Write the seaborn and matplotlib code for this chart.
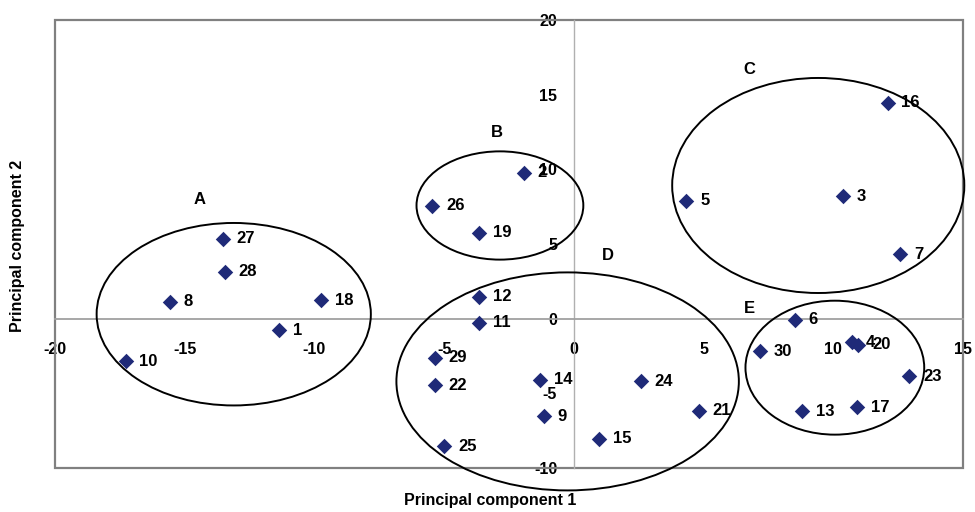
import numpy as np
import pandas as pd
import seaborn as sns
import matplotlib.pyplot as plt
from matplotlib.patches import Ellipse, Rectangle

# sample scores on the first two principal components
sample_id = list(range(1, 31))
pc1 = [-11.36, -1.93, 10.36, 10.71, 4.33, 8.52, 12.58, -15.57, -1.17, -17.28,
       -3.66, -3.66, 8.80, -1.31, 0.98, 12.09, 10.92, -9.75, -3.66, 10.96,
       4.82, -5.36, 12.93, 2.58, -5.00, -5.45, -13.53, -13.45, -5.36, 7.17]
pc2 = [-0.78, 9.76, 8.19, -1.59, 7.90, -0.07, 4.33, 1.12, -6.54, -2.86,
       -0.27, 1.47, -6.21, -4.09, -8.04, 14.45, -5.94, 1.23, 5.74, -1.74,
       -6.16, -4.47, -3.86, -4.20, -8.55, 7.57, 5.36, 3.13, -2.63, -2.19]

# cluster outlines
groups = ['A', 'B', 'C', 'D', 'E']
grp_cx = [-13.11, -2.85, 9.42, -0.24, 10.06]
grp_cy = [0.30, 7.58, 8.92, -4.20, -3.28]
grp_w = [10.57, 6.43, 11.26, 13.20, 6.89]
grp_h = [12.22, 7.25, 14.40, 14.60, 8.97]
grp_lx = [-14.42, -2.98, 6.78, 1.31, 6.76]
grp_ly = [7.97, 12.44, 16.68, 4.20, 0.71]

df = pd.DataFrame({'id': sample_id, 'pc1': pc1, 'pc2': pc2})

sns.set_style('white')
plt.rcParams['font.family'] = ['Liberation Sans', 'DejaVu Sans']
plt.rcParams['font.weight'] = 'bold'
plt.rcParams['text.color'] = 'black'
plt.rcParams['xtick.labelcolor'] = 'black'
plt.rcParams['ytick.labelcolor'] = 'black'
plt.rcParams['axes.unicode_minus'] = False

fig = plt.figure(figsize=(9.75, 5.12), dpi=100)
ax = fig.add_axes([0.0564, 0.0859, 0.9313, 0.875])

sns.scatterplot(data=df, x='pc1', y='pc2', marker='D', s=62, color='#1f2a78',
                edgecolor='#1f2a78', linewidth=0, ax=ax, zorder=3)

for i, x, y in zip(sample_id, pc1, pc2):
    ax.annotate(str(i), (x, y), xytext=(10, 0), textcoords='offset points',
                ha='left', va='center', fontsize=12, fontweight='bold', zorder=4)

for g, cx, cy, w, h, lx, ly in zip(groups, grp_cx, grp_cy, grp_w, grp_h, grp_lx, grp_ly):
    ax.add_patch(Ellipse((cx, cy), w, h, fill=False, edgecolor='black',
                         linewidth=1.4, clip_on=False, zorder=2))
    ax.text(lx, ly, g, ha='center', va='center', fontsize=12, fontweight='bold')

ax.set_xlim(-20, 15)
ax.set_ylim(-10, 20)
ax.set_xticks(np.arange(-20, 16, 5))
ax.set_yticks(np.arange(-10, 21, 5))

# axes cross at the origin, Excel style
for side in ['top', 'right']:
    ax.spines[side].set_visible(False)
ax.spines['left'].set_position(('data', 0))
ax.spines['bottom'].set_position(('data', 0))
ax.spines['left'].set_color('#b0b0b0')
ax.spines['bottom'].set_color('#a0a0a0')
ax.spines['left'].set_linewidth(1.0)
ax.spines['bottom'].set_linewidth(1.3)
ax.spines['left'].set_zorder(1)
ax.spines['bottom'].set_zorder(1)
ax.add_patch(Rectangle((0, 0), 1, 1, transform=ax.transAxes, fill=False,
                       edgecolor='#808080', linewidth=1.6, clip_on=False, zorder=1))

ax.tick_params(axis='x', direction='out', length=4, width=1, color='#a0a0a0',
               pad=13, labelsize=11.5)
ax.tick_params(axis='y', direction='out', length=4, width=1, color='#a0a0a0',
               pad=8, labelsize=11.5)
for lab in ax.get_xticklabels() + ax.get_yticklabels():
    lab.set_fontweight('bold')

ax.set_xlabel('')
ax.set_ylabel('')
fig.text(490 / 975, 1 - 500 / 512, 'Principal component 1', ha='center', va='center',
         fontsize=11.5, fontweight='bold')
fig.text(18 / 975, 1 - 246 / 512, 'Principal component 2', ha='center', va='center',
         rotation=90, fontsize=11.5, fontweight='bold')

fig.savefig('out.png', dpi=100)
